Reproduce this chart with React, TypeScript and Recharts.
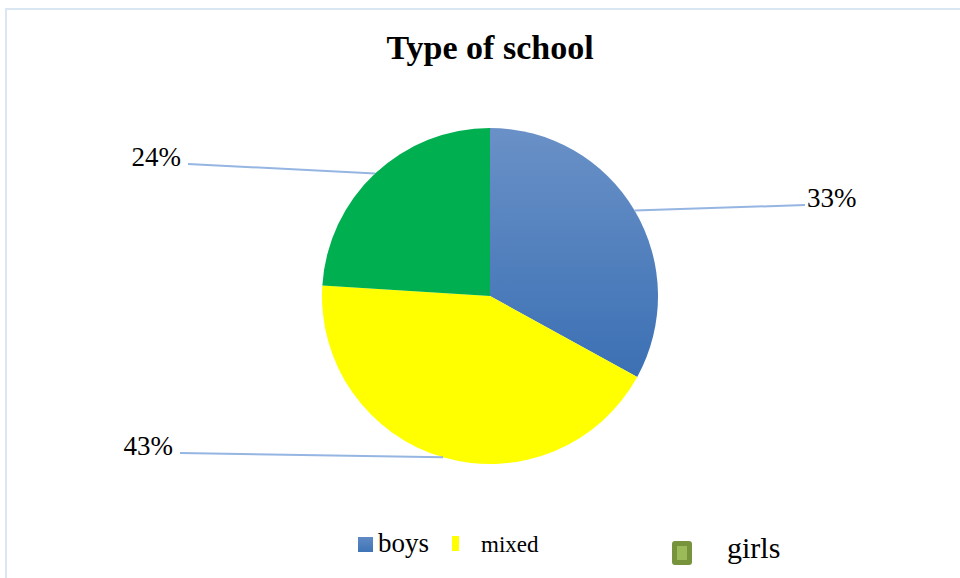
import React from "react";
import { PieChart, Pie, Cell, Legend } from "recharts";

const categories = ["boys", "mixed", "girls"];
const shares = [33, 43, 24];
const labelTexts = ["33%", "43%", "24%"];

const sliceColors = ["url(#boysGrad)", "#ffff00", "#00b050"];
const leaderEnds: Record<string, { dx: number; dy: number; side: "left" | "right"; gap: number }> = {
  boys: { dx: 315, dy: -91, side: "right", gap: 2 },
  mixed: { dx: -310, dy: 157, side: "left", gap: 7 },
  girls: { dx: -302, dy: -132, side: "left", gap: 7 },
};

const data = categories.map((name, i) => ({ name, value: shares[i], label: labelTexts[i] }));

const SERIF = "'Liberation Serif', 'Times New Roman', serif";
const RAD = Math.PI / 180;

const renderLabel = (props: any) => {
  const { cx, cy, midAngle, outerRadius, payload, name } = props;
  const key = (payload && payload.name) || name;
  const cfg = leaderEnds[key];
  if (!cfg) return null;
  const sx = cx + outerRadius * Math.cos(-midAngle * RAD);
  const sy = cy + outerRadius * Math.sin(-midAngle * RAD);
  const ex = cx + cfg.dx;
  const ey = cy + cfg.dy;
  const tx = cfg.side === "right" ? ex + cfg.gap : ex - cfg.gap;
  return (
    <g>
      <line x1={sx} y1={sy} x2={ex} y2={ey} stroke="#95b5e2" strokeWidth={2} />
      <text
        x={tx}
        y={ey + 2}
        textAnchor={cfg.side === "right" ? "start" : "end"}
        style={{ fontFamily: SERIF, fontSize: 27, fill: "#000" }}
      >
        {(payload && payload.label) || ""}
      </text>
    </g>
  );
};

const LegendContent = () => (
  <div style={{ position: "relative", width: 960, height: 58, fontFamily: SERIF, color: "#000" }}>
    <div style={{ position: "absolute", left: 358, top: 17, width: 15, height: 15, background: "linear-gradient(#5f8ac4, #3f74b6)" }} />
    <div style={{ position: "absolute", left: 378, top: 8, fontSize: 27, lineHeight: "30px" }}>{categories[0]}</div>
    <div style={{ position: "absolute", left: 452, top: 16, width: 7, height: 15, background: "#ffff00" }} />
    <div style={{ position: "absolute", left: 481, top: 12, fontSize: 23, lineHeight: "26px" }}>{categories[1]}</div>
    <div style={{ position: "absolute", left: 672, top: 21, width: 20, height: 24, background: "#77933c", borderRadius: 3 }}>
      <div style={{ position: "absolute", left: 5, top: 5, width: 10, height: 14, background: "#9bbb59" }} />
    </div>
    <div style={{ position: "absolute", left: 727, top: 12, fontSize: 30, lineHeight: "32px" }}>{categories[2]}</div>
  </div>
);

export default function App() {
  return (
    <div style={{ position: "absolute", left: 0, top: 0, width: 960, height: 578, overflow: "hidden", background: "#fff" }}>
      <div style={{ position: "absolute", left: 5, top: 8, width: 1000, height: 1000, border: "2px solid #dbe6f3" }} />
      <div
        style={{
          position: "absolute",
          left: 0,
          top: 29,
          width: 980,
          textAlign: "center",
          fontFamily: SERIF,
          fontWeight: "bold",
          fontSize: 34,
          lineHeight: "38px",
          color: "#000",
        }}
      >
        Type of school
      </div>
      <div style={{ position: "absolute", left: 0, top: 0 }}>
        <PieChart width={960} height={578} margin={{ top: 0, right: 0, bottom: 0, left: 0 }}>
          <defs>
            <linearGradient id="boysGrad" x1="0" y1="0" x2="0" y2="1">
              <stop offset="0%" stopColor="#6a91c7" />
              <stop offset="100%" stopColor="#3b70b4" />
            </linearGradient>
          </defs>
          <Pie
            data={data}
            dataKey="value"
            nameKey="name"
            cx={490}
            cy={296}
            outerRadius={168}
            startAngle={90}
            endAngle={-270}
            stroke="none"
            label={renderLabel}
            labelLine={false}
            isAnimationActive={false}
          >
            {data.map((d, i) => (
              <Cell key={d.name} fill={sliceColors[i]} />
            ))}
          </Pie>
          <Legend
            content={LegendContent}
            wrapperStyle={{ position: "absolute", left: 0, top: 520, width: 960, height: 58 }}
          />
        </PieChart>
      </div>
    </div>
  );
}
